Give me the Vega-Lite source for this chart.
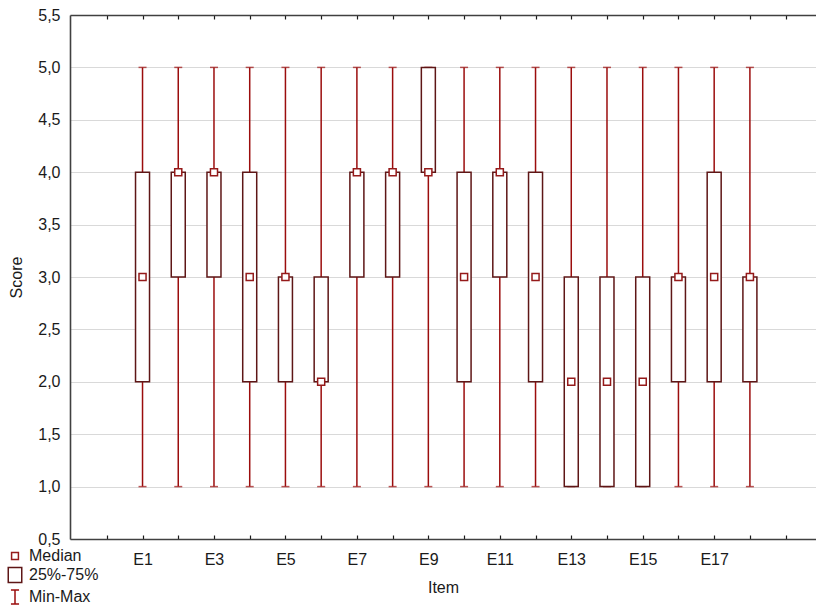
{
  "$schema": "https://vega.github.io/schema/vega-lite/v6.json",
  "width": 746,
  "height": 524,
  "autosize": {"type": "none"},
  "padding": {"left": 70, "top": 15, "right": 0, "bottom": 66},
  "background": "white",
  "config": {
    "view": {"stroke": null},
    "font": "Liberation Sans",
    "axis": {"labelFont": "Liberation Sans", "titleFont": "Liberation Sans", "labelFontSize": 16, "titleFontSize": 16, "titleFontWeight": "normal", "labelColor": "#1a1a1a", "titleColor": "#1a1a1a", "domainColor": "#404040", "domainWidth": 1.6},
    "legend": {"labelFont": "Liberation Sans", "labelFontSize": 16, "labelColor": "#1a1a1a"}
  },
  "data": {"values": [
    {"item": "E1", "i": 1, "min": 1, "q1": 2, "med": 3, "q3": 4, "max": 5},
    {"item": "E2", "i": 2, "min": 1, "q1": 3, "med": 4, "q3": 4, "max": 5},
    {"item": "E3", "i": 3, "min": 1, "q1": 3, "med": 4, "q3": 4, "max": 5},
    {"item": "E4", "i": 4, "min": 1, "q1": 2, "med": 3, "q3": 4, "max": 5},
    {"item": "E5", "i": 5, "min": 1, "q1": 2, "med": 3, "q3": 3, "max": 5},
    {"item": "E6", "i": 6, "min": 1, "q1": 2, "med": 2, "q3": 3, "max": 5},
    {"item": "E7", "i": 7, "min": 1, "q1": 3, "med": 4, "q3": 4, "max": 5},
    {"item": "E8", "i": 8, "min": 1, "q1": 3, "med": 4, "q3": 4, "max": 5},
    {"item": "E9", "i": 9, "min": 1, "q1": 4, "med": 4, "q3": 5, "max": 5},
    {"item": "E10", "i": 10, "min": 1, "q1": 2, "med": 3, "q3": 4, "max": 5},
    {"item": "E11", "i": 11, "min": 1, "q1": 3, "med": 4, "q3": 4, "max": 5},
    {"item": "E12", "i": 12, "min": 1, "q1": 2, "med": 3, "q3": 4, "max": 5},
    {"item": "E13", "i": 13, "min": 1, "q1": 1, "med": 2, "q3": 3, "max": 5},
    {"item": "E14", "i": 14, "min": 1, "q1": 1, "med": 2, "q3": 3, "max": 5},
    {"item": "E15", "i": 15, "min": 1, "q1": 1, "med": 2, "q3": 3, "max": 5},
    {"item": "E16", "i": 16, "min": 1, "q1": 2, "med": 3, "q3": 3, "max": 5},
    {"item": "E17", "i": 17, "min": 1, "q1": 2, "med": 3, "q3": 4, "max": 5},
    {"item": "E18", "i": 18, "min": 1, "q1": 2, "med": 3, "q3": 3, "max": 5}
  ]},
  "layer": [
    {
      "encoding": {
        "x": {
          "field": "i", "type": "quantitative",
          "scale": {"domain": [-1.03, 19.85], "nice": false, "zero": false, "padding": 0},
          "axis": {
            "title": "Item", "titlePadding": 12,
            "values": [0,1,2,3,4,5,6,7,8,9,10,11,12,13,14,15,16,17,18,19],
            "labelExpr": "(datum.value % 2 == 1 && datum.value <= 17) ? 'E' + datum.value : ''",
            "tickSize": -4, "tickColor": "#1a1a1a", "tickWidth": 1.2,
            "labelPadding": 16, "grid": false, "labelFlush": false, "labelOverlap": false
          }
        }
      },
      "layer": [
        {
          "mark": {"type": "rule", "color": "#9b0d0d", "strokeWidth": 1.5},
          "encoding": {
            "y": {
              "field": "min", "type": "quantitative",
              "scale": {"domain": [0.5, 5.5], "nice": false, "zero": false, "padding": 0},
              "axis": {
                "title": "Score", "titlePadding": 13,
                "values": [0.5,1,1.5,2,2.5,3,3.5,4,4.5,5,5.5],
                "labelExpr": "replace(format(datum.value, '.1f'), '.', ',')",
                "ticks": false, "labelPadding": 10, "grid": true, "gridColor": "#d9d9d9", "gridWidth": 1.2
              }
            },
            "y2": {"field": "max"}
          }
        },
        {
          "mark": {"type": "tick", "orient": "horizontal", "color": "#9b0d0d", "size": 8, "thickness": 1.5},
          "encoding": {"y": {"field": "max", "type": "quantitative"}}
        },
        {
          "mark": {"type": "tick", "orient": "horizontal", "color": "#9b0d0d", "size": 8, "thickness": 1.5},
          "encoding": {"y": {"field": "min", "type": "quantitative"}}
        },
        {
          "mark": {"type": "bar", "width": 14, "fill": "white", "stroke": "#5e1616", "strokeWidth": 1.5},
          "encoding": {"y": {"field": "q1", "type": "quantitative"}, "y2": {"field": "q3"}}
        },
        {
          "mark": {"type": "point", "shape": "square", "size": 50, "filled": false, "fill": "white", "fillOpacity": 1, "stroke": "#951a1a", "strokeWidth": 1.5, "opacity": 1},
          "encoding": {"y": {"field": "med", "type": "quantitative"}}
        },
        {
          "data": {"values": [{"key": "Median"}, {"key": "25%-75%"}, {"key": "Min-Max"}]},
          "mark": {"type": "point", "filled": false, "opacity": 0, "strokeWidth": 1.5, "size": 324},
          "encoding": {
            "x": {"value": 0},
            "y": {"value": 0},
            "shape": {
              "field": "key", "type": "nominal",
              "scale": {"domain": ["Median", "25%-75%", "Min-Max"], "range": ["M-0.38,-0.38H0.38V0.38H-0.38Z", "M-0.75,-0.82H0.75V0.82H-0.75Z", "M-0.45,-0.78H0.45M0,-0.78V0.78M-0.45,0.78H0.45"]},
              "legend": {"title": null, "orient": "none", "legendX": -65, "legendY": 531, "symbolOpacity": 1, "symbolSize": 324, "symbolStrokeWidth": 1.5, "rowPadding": 0, "labelOffset": 4, "padding": 0, "symbolFillColor": "white"}
            },
            "stroke": {
              "field": "key", "type": "nominal",
              "scale": {"domain": ["Median", "25%-75%", "Min-Max"], "range": ["#951a1a", "#5e1616", "#9b0d0d"]},
              "legend": {"title": null, "orient": "none", "legendX": -65, "legendY": 531, "symbolOpacity": 1, "symbolSize": 324, "symbolStrokeWidth": 1.5, "rowPadding": 0, "labelOffset": 4, "padding": 0, "symbolFillColor": "white"}
            }
          }
        }
      ]
    },
    {
      "mark": {"type": "rule", "color": "#404040", "strokeWidth": 1.6},
      "encoding": {
        "x": {"field": "i", "type": "quantitative", "axis": {"orient": "top", "title": null, "labels": false, "values": [0,1,2,3,4,5,6,7,8,9,10,11,12,13,14,15,16,17,18,19], "tickSize": -4, "tickColor": "#1a1a1a", "tickWidth": 1.2, "grid": false}},
        "opacity": {"value": 0}
      }
    }
  ],
  "resolve": {"axis": {"x": "independent"}}
}
